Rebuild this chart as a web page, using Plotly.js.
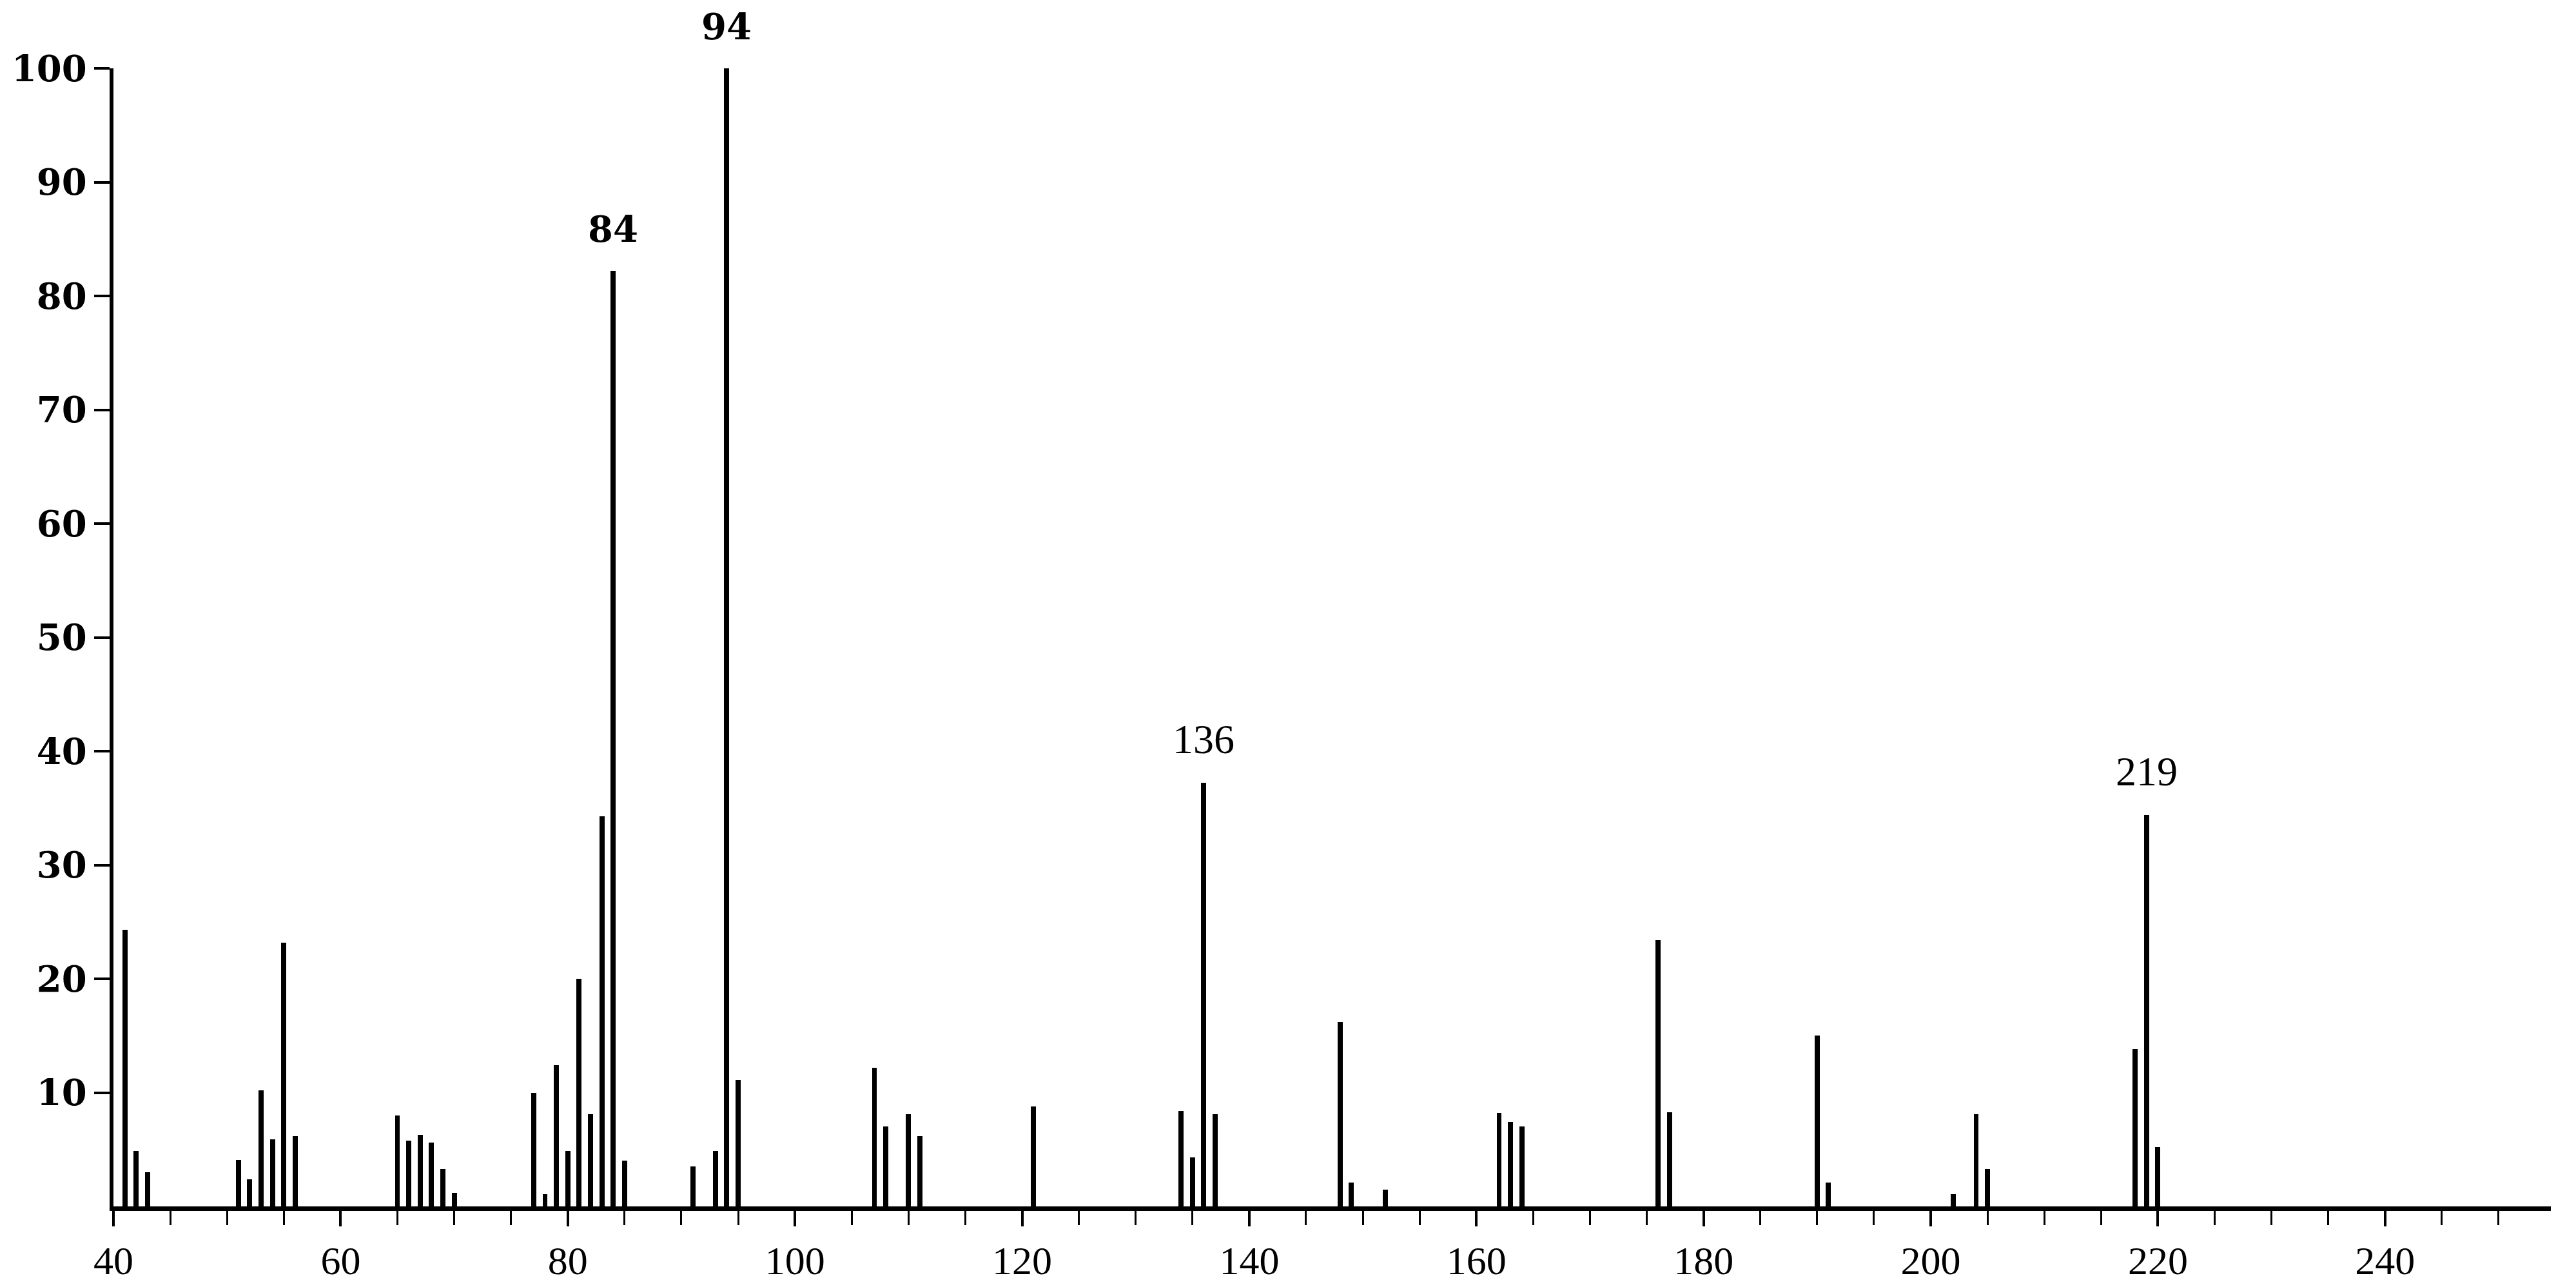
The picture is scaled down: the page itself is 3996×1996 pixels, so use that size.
<!DOCTYPE html>
<html>
<head>
<meta charset="utf-8">
<script src="https://cdn.plot.ly/plotly-3.0.1.min.js"></script>
<style>
  html, body { margin: 0; padding: 0; background: #ffffff; }
  #chart { width: 3996px; height: 1996px; }
</style>
</head>
<body>
<div id="chart"></div>
<script>
// m/z values of the peaks
const mz = [
  41, 42, 43,
  51, 52, 53, 54, 55, 56,
  65, 66, 67, 68, 69, 70,
  77, 78, 79, 80, 81, 82, 83, 84, 85,
  91, 93, 94, 95,
  107, 108, 110, 111,
  121,
  134, 135, 136, 137,
  148, 149, 152,
  162, 163, 164,
  176, 177,
  190, 191,
  202, 204, 205,
  218, 219, 220
];
// relative intensities (%)
const intensity = [
  24.3, 4.9, 3.0,
  4.1, 2.4, 10.2, 5.9, 23.2, 6.2,
  8.0, 5.8, 6.3, 5.6, 3.3, 1.2,
  10.0, 1.1, 12.4, 4.9, 20.0, 8.1, 34.3, 82.2, 4.0,
  3.5, 4.9, 100, 11.1,
  12.2, 7.0, 8.1, 6.2,
  8.8,
  8.4, 4.3, 37.2, 8.1,
  16.2, 2.1, 1.5,
  8.2, 7.4, 7.0,
  23.4, 8.3,
  15.0, 2.1,
  1.1, 8.1, 3.3,
  13.8, 34.4, 5.2
];
// labelled peaks
const boldLabels = [84, 94];
const plainLabels = [136, 219];

// axis ticks
const xLabelVals = [40, 60, 80, 100, 120, 140, 160, 180, 200, 220, 240];
const yLabelVals = [10, 20, 30, 40, 50, 60, 70, 80, 90, 100];

function heightOf(m) { return intensity[mz.indexOf(m)]; }

const trace = {
  type: 'bar',
  x: mz,
  y: intensity,
  width: 0.45,
  marker: { color: '#000000', line: { width: 0 } },
  hoverinfo: 'x+y'
};

const annotations = [];
boldLabels.forEach(m => annotations.push({
  x: m, y: heightOf(m), xref: 'x', yref: 'y',
  text: String(m), showarrow: false,
  xanchor: 'center', yanchor: 'bottom', yshift: 30,
  font: { family: 'DejaVu Serif', size: 56, color: '#000000', weight: 'bold' }
}));
plainLabels.forEach(m => annotations.push({
  x: m, y: heightOf(m), xref: 'x', yref: 'y',
  text: String(m), showarrow: false,
  xanchor: 'center', yanchor: 'bottom', yshift: 30,
  font: { family: 'Liberation Serif', size: 64, color: '#000000' }
}));

const layout = {
  width: 3996,
  height: 1996,
  paper_bgcolor: '#ffffff',
  plot_bgcolor: '#ffffff',
  showlegend: false,
  bargap: 0,
  margin: { l: 176, r: 39, t: 106, b: 125, pad: 0 },
  xaxis: {
    range: [40, 254.6],
    showgrid: false,
    zeroline: false,
    showline: true,
    linecolor: '#000000',
    linewidth: 7,
    ticks: 'outside',
    ticklen: 24,
    tickwidth: 4,
    tickcolor: '#000000',
    tickvals: xLabelVals,
    ticktext: xLabelVals.map(String),
    minor: { dtick: 5, tick0: 40, ticks: 'outside', ticklen: 22, tickwidth: 3, tickcolor: '#000000', showgrid: false },
    tickfont: { family: 'Liberation Serif', size: 62, color: '#000000' },
    title: { text: '' }
  },
  yaxis: {
    range: [0, 100],
    showgrid: false,
    zeroline: false,
    showline: true,
    linecolor: '#000000',
    linewidth: 6,
    ticks: 'outside',
    ticklen: 24,
    tickwidth: 4,
    tickcolor: '#000000',
    tickvals: yLabelVals,
    ticktext: yLabelVals.map(String),
    tickfont: { family: 'DejaVu Serif', size: 56, color: '#000000', weight: 'bold' },
    title: { text: '' }
  },
  annotations: annotations
};

Plotly.newPlot('chart', [trace], layout, { displayModeBar: false, staticPlot: true });
</script>
</body>
</html>
